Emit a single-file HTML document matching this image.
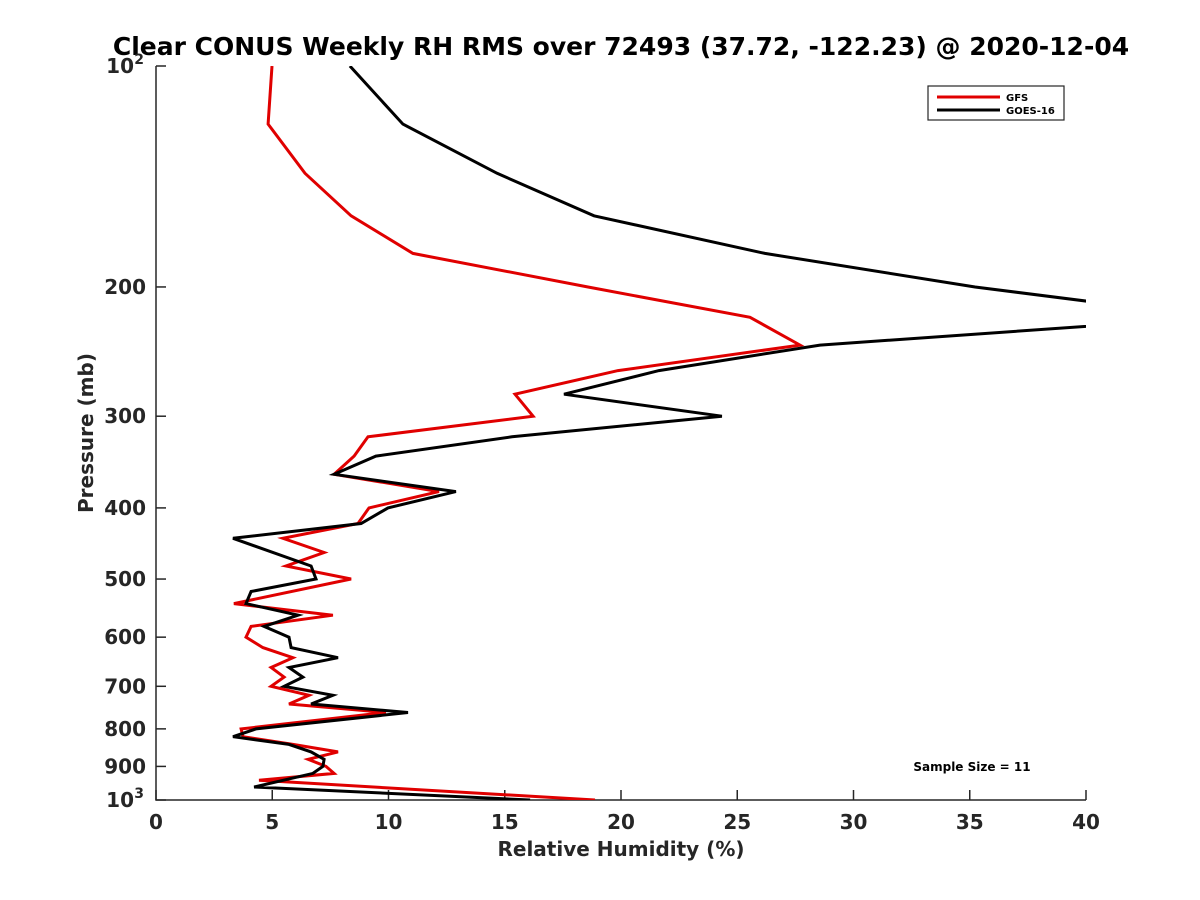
<!DOCTYPE html>
<html><head><meta charset="utf-8"><style>
body{margin:0;background:#fff;}
svg{display:block;font-family:"DejaVu Sans","Liberation Sans",sans-serif;font-weight:bold;}
</style></head><body>
<svg id="chart" width="1200" height="900" viewBox="0 0 1200 900">
<defs><clipPath id="plotclip"><rect x="156" y="66" width="930" height="734"/></clipPath></defs>
<rect width="1200" height="900" fill="#fff"/>
<text x="621" y="55" text-anchor="middle" font-size="25" fill="#000">Clear CONUS Weekly RH RMS over 72493 (37.72, -122.23) @ 2020-12-04</text>
<g id="axes"></g>
<g id="series" clip-path="url(#plotclip)"></g>
<text x="621" y="856" text-anchor="middle" font-size="20" fill="#262626">Relative Humidity (%)</text>
<text transform="translate(93,433) rotate(-90)" text-anchor="middle" font-size="20" fill="#262626">Pressure (mb)</text>
<g>
<rect x="928" y="86" width="136" height="34" fill="#fff" stroke="#262626" stroke-width="1.2"/>
<line x1="937" y1="97" x2="1000" y2="97" stroke="#e00000" stroke-width="3"/>
<text x="1006" y="101" font-size="10" fill="#000">GFS</text>
<line x1="937" y1="110" x2="1000" y2="110" stroke="#000" stroke-width="3"/>
<text x="1006" y="114" font-size="10" fill="#000">GOES-16</text>
</g>
<text x="972" y="771" text-anchor="middle" font-size="12" fill="#000">Sample Size = 11</text>
</svg>
<script>
const xTicks=[0,5,10,15,20,25,30,35,40];
const yTicks=[100,200,300,400,500,600,700,800,900,1000];
const yTickLabels=["10|2","200","300","400","500","600","700","800","900","10|3"];
const gfsP=[100,120,140,160,180,200,220,240,260,280,300,320,340,360,380,400,420,440,460,480,500,540,560,580,600,620,640,660,680,700,720,740,760,800,820,840,860,880,900,920,940,1000];
const gfsV=[4.99,4.82,6.41,8.39,11.05,18.58,25.55,27.70,19.87,15.44,16.22,9.12,8.52,7.66,12.17,9.16,8.69,5.46,7.23,5.59,8.39,3.35,7.61,4.09,3.87,4.60,5.89,4.95,5.51,4.95,6.58,5.72,9.89,3.66,3.74,5.89,7.83,6.54,7.31,7.66,4.43,18.88];
const goesP=[100,120,140,160,180,200,220,240,260,280,300,320,340,360,380,400,420,440,480,500,520,540,560,580,600,620,640,660,680,700,720,740,760,800,820,840,860,880,900,920,960,1000];
const goesV=[8.34,10.62,14.67,18.84,26.19,35.23,45.5,28.56,21.63,17.55,24.34,15.31,9.46,7.66,12.90,9.98,8.82,3.31,6.67,6.88,4.09,3.87,6.11,4.65,5.72,5.81,7.83,5.72,6.32,5.51,7.61,6.67,10.84,4.30,3.31,5.72,6.67,7.23,7.18,6.75,4.22,16.09];

const NS="http://www.w3.org/2000/svg";
const X0=156,X1=1086,Y0=66,Y1=800;
const xs=v=>X0+(v-0)/40*(X1-X0);
const ys=p=>Y0+Math.log10(p/100)*(Y1-Y0);
function mk(tag,attrs,parent){const e=document.createElementNS(NS,tag);for(const k in attrs)e.setAttribute(k,attrs[k]);parent.appendChild(e);return e;}
const axes=document.getElementById('axes');
const ax=mk('path',{d:`M${X0},${Y0}V${Y1}H${X1}`,fill:'none',stroke:'#262626','stroke-width':1.5},axes);


xTicks.forEach(t=>{
  const x=xs(t);
  const tk=mk('line',{x1:x,y1:Y1,x2:x,y2:Y1-10,stroke:'#262626','stroke-width':1.5},axes);
  
  
  const lb=mk('text',{x:x,y:Y1+29,'text-anchor':'middle','font-size':20,fill:'#262626'},axes);
  lb.textContent=String(t);
  
  
});
yTicks.forEach((p,i)=>{
  const y=ys(p);
  const tk=mk('line',{x1:X0,y1:y,x2:X0+10,y2:y,stroke:'#262626','stroke-width':1.5},axes);
  
  
  const parts=yTickLabels[i].split('|');
  if(parts.length===2){
    const lb=mk('text',{x:X0-22,y:y+7,'text-anchor':'end','font-size':20,fill:'#262626'},axes);
    lb.textContent=parts[0];
    
    
    const sp=mk('text',{x:X0-12,y:y-2,'text-anchor':'end','font-size':14,fill:'#262626'},axes);
    sp.textContent=parts[1];
    
    
  } else {
    const lb=mk('text',{x:X0-10,y:y+7,'text-anchor':'end','font-size':20,fill:'#262626'},axes);
    lb.textContent=parts[0];
    
    
  }
});
const ser=document.getElementById('series');
function drawLine(P,V,color,name){
  const d=P.map((p,i)=>(i?'L':'M')+xs(V[i]).toFixed(1)+','+ys(p).toFixed(1)).join('');
  const e=mk('path',{d:d,fill:'none',stroke:color,'stroke-width':3,'stroke-linejoin':'miter'},ser);
  
  
}
drawLine(gfsP,gfsV,'#e00000','gfs-line');
drawLine(goesP,goesV,'#000','goes16-line');
</script>
</body></html>
